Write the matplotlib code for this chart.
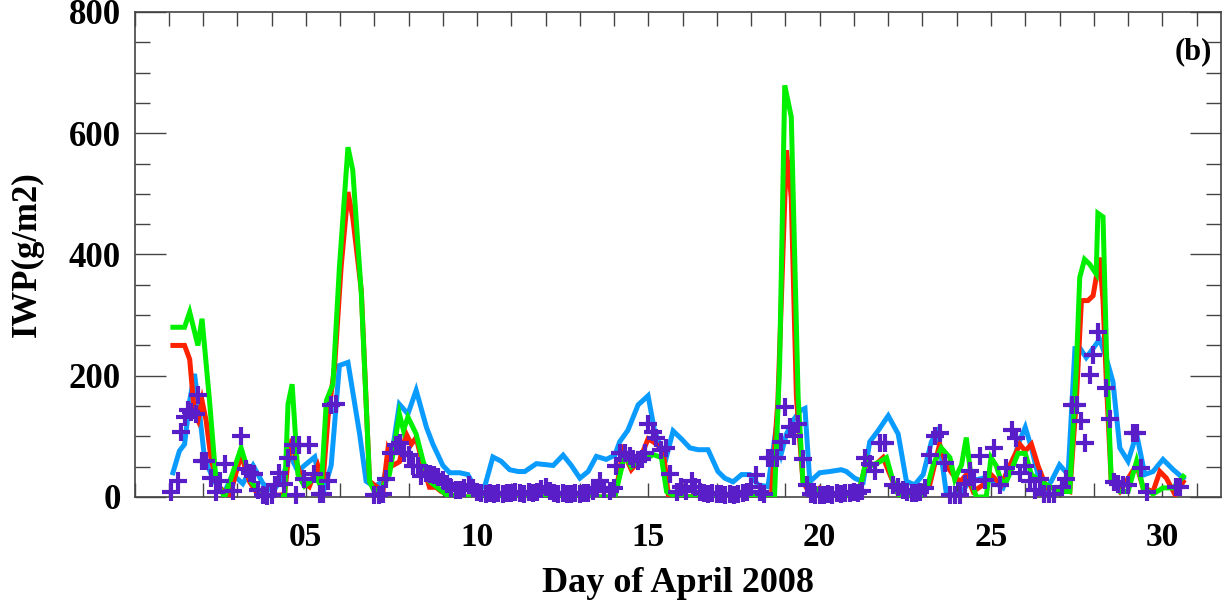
import matplotlib
matplotlib.use("Agg")
import matplotlib.pyplot as plt
from matplotlib.ticker import MultipleLocator, FixedLocator, FixedFormatter

# ---------------- data ----------------
blue_day = [1.12, 1.31, 1.46, 1.61, 1.75, 1.9, 2.04, 2.24, 2.43, 2.63, 2.87, 3.16, 3.46, 3.75,
            4.04, 4.33, 4.53, 4.77, 4.96, 5.26, 5.4, 5.55, 5.74, 5.98, 6.23, 6.57, 6.76, 7.0,
            7.25, 7.54, 7.73, 7.98, 8.22, 8.52, 8.71, 9.0, 9.2, 9.49, 9.73, 9.93, 10.22, 10.46,
            10.7, 10.95, 11.2, 11.39, 11.73, 12.22, 12.51, 12.75, 13.0, 13.24, 13.48, 13.77,
            14.02, 14.16, 14.4, 14.7, 14.99, 15.18, 15.33, 15.53, 15.72, 15.96, 16.21, 16.45,
            16.74, 17.03, 17.23, 17.47, 17.72, 17.96, 18.2, 18.49, 18.73, 18.88, 19.03, 19.22,
            19.42, 19.57, 19.71, 20.0, 20.29, 20.63, 20.78, 21.02, 21.27, 21.46, 21.7, 22.0,
            22.29, 22.53, 22.77, 23.02, 23.26, 23.45, 23.7, 24.09, 24.38, 24.77, 25.06, 25.35,
            25.65, 25.79, 26.0, 26.18, 26.37, 26.62, 26.76, 27.0, 27.25, 27.45, 27.59, 27.78,
            27.98, 28.17, 28.37, 28.56, 28.76, 29.0, 29.25, 29.49, 29.73, 30.02, 30.32, 30.61]
blue_iwp = [40, 76, 87, 159, 203, 137, 65, 37, 16, 9, 37, 22, 52, 22,
            9, 33, 70, 42, 52, 66, 26, 16, 52, 217, 222, 104, 26, 17,
            26, 81, 153, 137, 176, 115, 87, 52, 40, 40, 37, 16, 17, 66,
            59, 45, 42, 42, 55, 52, 69, 52, 31, 42, 67, 62,
            69, 91, 110, 152, 167, 109, 87, 67, 109, 96, 81, 78,
            78, 42, 31, 25, 37, 37, 20, 17, 115, 72, 104, 126,
            142, 146, 25, 40, 42, 45, 42, 31, 25, 91, 109, 134,
            104, 26, 20, 37, 91, 109, 4, 4, 26, 31, 26, 15,
            53, 87, 115, 81, 37, 15, 26, 53, 37, 245, 246, 230,
            245, 260, 228, 190, 81, 59, 104, 37, 42, 62, 45, 31]

red_day = [1.12, 1.46, 1.61, 1.75, 1.85, 1.97, 2.09, 2.24, 2.48, 2.77, 3.11, 3.36, 3.65, 4.38,
           4.48, 4.6, 4.72, 4.9, 5.1, 5.35, 5.5, 5.65, 5.84, 6.03, 6.23, 6.37, 6.62, 6.86,
           7.25, 7.39, 7.54, 7.73, 7.93, 8.08, 8.22, 8.42, 8.61, 8.8, 8.95, 9.4, 14.02, 14.26,
           14.5, 14.75, 14.99, 15.14, 15.43, 15.58, 15.8, 18.59, 18.78, 19.03, 19.17, 19.32,
           19.51, 19.71, 20.0, 20.3, 21.1, 21.37, 21.6, 21.85, 22.05, 22.3, 23.0, 23.21, 23.5,
           23.7, 23.89, 24.1, 24.28, 24.48, 24.77, 25.0, 25.3, 25.55, 25.84, 26.0, 26.18, 26.37,
           26.62, 27.0, 27.3, 27.49, 27.64, 27.83, 27.98, 28.17, 28.27, 28.37, 28.51, 28.76,
           29.25, 29.44, 29.73, 29.93, 30.12, 30.37, 30.61]
red_iwp = [250, 250, 227, 137, 126, 159, 126, 60, 16, 0, 70, 25, 0, 4,
           60, 96, 60, 25, 17, 52, 25, 132, 215, 379, 503, 461, 340, 26,
           9, 76, 52, 58, 104, 87, 98, 52, 16, 16, 9, 0, 0, 75,
           45, 62, 96, 91, 78, 4, 0, 3, 160, 572, 493, 165,
           26, 5, 15, 5, 0, 59, 52, 65, 37, 4, 4, 20, 87,
           52, 37, 25, 37, 9, 20, 37, 20, 52, 87, 76, 87, 52,
           15, 15, 9, 159, 324, 324, 332, 395, 324, 186, 26, 9,
           53, 15, 9, 42, 31, 4, 25]

green_day = [1.12, 1.46, 1.61, 1.85, 1.97, 2.19, 2.38, 2.63, 3.11, 3.41, 3.75, 4.38, 4.48, 4.6,
             4.77, 4.96, 5.3, 5.45, 5.6, 5.79, 5.98, 6.23, 6.37, 6.62, 6.86, 7.0, 7.25, 7.44,
             7.59, 7.73, 7.85, 7.98, 8.22, 8.42, 8.61, 9.1, 9.5, 14.02, 14.31, 14.5, 14.75,
             14.99, 15.14, 15.38, 15.53, 15.8, 18.68, 18.83, 18.98, 19.17, 19.37, 19.51, 19.81,
             20.0, 20.29, 20.5, 21.12, 21.37, 21.51, 21.75, 21.95, 22.14, 22.3, 22.48, 22.9,
             23.11, 23.31, 23.55, 23.8, 23.94, 24.14, 24.28, 24.43, 24.57, 24.86, 25.0, 25.15,
             25.3, 25.45, 25.65, 25.79, 26.0, 26.18, 26.43, 26.72, 27.0, 27.3, 27.49, 27.59,
             27.73, 27.88, 28.07, 28.12, 28.27, 28.37, 28.51, 28.76, 29.0, 29.25, 29.44, 29.73,
             30.02, 30.32, 30.61]
green_iwp = [280, 280, 305, 250, 294, 158, 26, 0, 81, 25, 0, 0, 153, 186,
             37, 18, 33, 16, 159, 186, 379, 577, 539, 335, 26, 9, 16, 37,
             87, 137, 110, 132, 104, 60, 26, 4, 0, 0, 70, 50, 62,
             65, 70, 65, 9, 0, 1, 218, 679, 627, 165, 26, 17,
             8, 10, 0, 0, 65, 52, 58, 65, 26, 4, 0, 0,
             10, 53, 81, 65, 29, 53, 98, 26, 0, 0, 65, 52,
             26, 26, 52, 72, 72, 37, 26, 17, 9, 9, 213, 362,
             392, 384, 368, 468, 462, 241, 26, 9, 9, 59, 15, 5,
             15, 15, 34]

obs_day = [1.07, 1.27, 1.36, 1.46, 1.56, 1.66, 1.8, 1.85, 1.97, 2.1, 2.24, 2.38, 2.48, 2.63,
           2.88, 3.11, 3.24, 3.36, 3.5, 3.61, 3.75, 3.86, 4.0, 4.1, 4.23, 4.35, 4.48, 4.62,
           4.7, 4.8, 4.96, 5.1, 5.25, 5.4, 5.5, 5.65, 5.74, 5.87, 7.0, 7.13, 7.25, 7.35, 7.49,
           7.62, 7.74, 7.88, 8.0, 8.13, 8.27, 8.37, 8.5, 8.62, 8.75, 8.87, 9.0, 9.12, 9.25,
           9.37, 9.5, 9.62, 9.75, 9.87, 10.0, 10.12, 10.25, 10.37, 10.5, 10.62, 10.75, 10.87,
           11.0, 11.12, 11.25, 11.37, 11.5, 11.62, 11.75, 11.87, 12.0, 12.12, 12.25, 12.37,
           12.5, 12.62, 12.75, 12.87, 13.0, 13.12, 13.25, 13.37, 13.5, 13.58, 13.7, 13.87,
           14.0, 14.06, 14.16, 14.31, 14.45, 14.55, 14.7, 14.8, 14.89, 14.99, 15.13, 15.23,
           15.38, 15.52, 15.62, 15.82, 15.96, 16.1, 16.26, 16.35, 16.5, 16.62, 16.75, 16.87,
           17.0, 17.12, 17.25, 17.37, 17.5, 17.62, 17.75, 17.87, 17.99, 18.13, 18.25, 18.37,
           18.49, 18.62, 18.74, 18.86, 19.0, 19.12, 19.25, 19.37, 19.5, 19.62, 19.75, 19.87,
           20.0, 20.12, 20.25, 20.37, 20.5, 20.62, 20.75, 20.87, 21.0, 21.12, 21.22, 21.32,
           21.46, 21.61, 21.75, 21.9, 22.14, 22.29, 22.42, 22.55, 22.68, 22.8, 22.93, 23.06,
           23.21, 23.36, 23.5, 23.65, 23.8, 23.95, 24.09, 24.23, 24.38, 24.5, 24.67, 24.82,
           25.08, 25.26, 25.45, 25.6, 25.74, 25.84, 25.99, 26.13, 26.28, 26.43, 26.55, 26.7,
           26.85, 27.06, 27.2, 27.35, 27.5, 27.64, 27.74, 27.88, 27.98, 28.13, 28.37, 28.47,
           28.58, 28.7, 28.85, 28.99, 29.15, 29.25, 29.39, 29.54, 30.4, 30.53]
obs_iwp = [8, 27, 108, 132, 143, 140, 137, 169, 59, 59, 32, 8, 27, 54,
           10, 101, 46, 40, 38, 12, 4, 2, 3, 19, 40, 22, 65, 86,
           3, 86, 30, 86, 38, 5, 5, 27, 151, 153, 3, 3, 5, 30, 73,
           86, 89, 73, 70, 51, 51, 35, 40, 38, 36, 33, 28, 22, 15,
           12, 12, 15, 20, 15, 8, 6, 5, 7, 5, 6, 5, 7,
           6, 8, 6, 5, 8, 7, 9, 14, 17, 10, 6, 5,
           6, 5, 5, 6, 5, 6, 7, 10, 15, 27, 14, 10,
           15, 51, 73, 73, 67, 62, 59, 62, 73, 121, 108, 97,
           78, 81, 38, 8, 16, 10, 27, 16, 8, 6, 5, 6,
           5, 5, 4, 5, 4, 5, 6, 8, 16, 36, 8, 5,
           65, 65, 65, 91, 149, 116, 100, 121, 62, 19, 5, 3,
           4, 3, 5, 4, 6, 5, 6, 7, 8, 7, 10, 65,
           54, 43, 89, 89, 19, 16, 12, 8, 6, 7, 9, 15,
           70, 100, 105, 56, 3, 3, 3, 22, 43, 27, 67, 28,
           81, 19, 48, 110, 97, 40, 51, 27, 11, 30, 5, 5,
           5, 16, 30, 151, 151, 126, 89, 202, 234, 272, 180, 129,
           24, 22, 20, 19, 105, 105, 48, 8, 16, 16]

x_tick_days = [5, 10, 15, 20, 25, 30]
x_tick_labels = ["05", "10", "15", "20", "25", "30"]
y_ticks = [0, 200, 400, 600, 800]

# ---------------- figure ----------------
plt.rcParams['font.family'] = ['Liberation Serif', 'DejaVu Serif']
plt.rcParams['font.weight'] = 'bold'

fig = plt.figure(figsize=(12.22, 6.03), dpi=100)
ax = fig.add_axes([0.1101, 0.1758, 0.8887, 0.8043])

lw = 3.6
ax.plot(blue_day, blue_iwp, color='#0a9bff', lw=lw, solid_joinstyle='miter', zorder=2)
ax.plot(red_day, red_iwp, color='#ff2200', lw=lw, solid_joinstyle='miter', zorder=3)
ax.plot(green_day, green_iwp, color='#00f000', lw=lw, solid_joinstyle='miter', zorder=4)
ax.plot(obs_day, obs_iwp, linestyle='none', marker='+', markersize=13,
        markeredgewidth=3.0, color='#5a1ec8', zorder=5, clip_on=False)

ax.set_xlim(0, 31.7)
ax.set_ylim(0, 800)

ax.xaxis.set_major_locator(FixedLocator(x_tick_days))
ax.xaxis.set_major_formatter(FixedFormatter(x_tick_labels))
ax.xaxis.set_minor_locator(MultipleLocator(1))
ax.yaxis.set_major_locator(FixedLocator(y_ticks))
ax.yaxis.set_minor_locator(MultipleLocator(50))

tick_col = '#444444'
ax.tick_params(axis='x', which='both', direction='in', length=10, width=1.0,
               top=True, bottom=True, color=tick_col, labelsize=24, pad=18)
ax.tick_params(axis='y', which='major', direction='in', length=22, width=1.0,
               left=True, right=True, color=tick_col, labelsize=25, pad=10)
ax.tick_params(axis='y', which='minor', direction='in', length=11, width=1.0,
               left=True, right=True, color=tick_col)
for lab in ax.get_xticklabels() + ax.get_yticklabels():
    lab.set_fontweight('bold')

for sp in ax.spines.values():
    sp.set_color(tick_col)
    sp.set_linewidth(1.2)

ax.set_xlabel('Day of April 2008', fontsize=26, fontweight='bold', labelpad=10)
ax.set_ylabel('IWP(g/m2)', fontsize=25, fontweight='bold', labelpad=18)

ax.text(0.992, 0.948, '(b)', transform=ax.transAxes, ha='right', va='top',
        fontsize=22, fontweight='bold')

fig.savefig('out.png', dpi=100)
